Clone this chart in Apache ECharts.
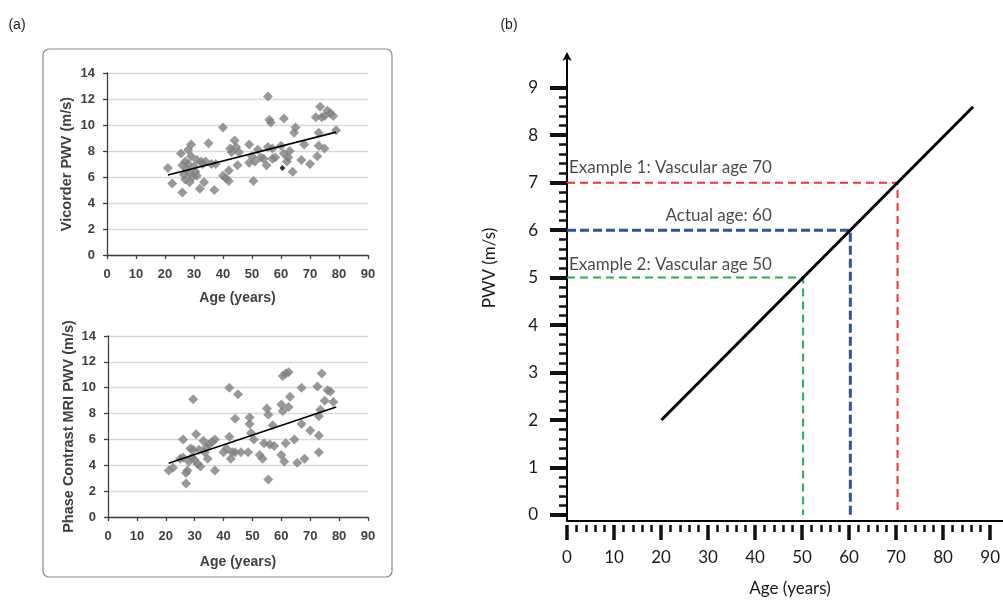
<!DOCTYPE html>
<html><head><meta charset="utf-8">
<script src="https://cdn.jsdelivr.net/npm/echarts@6/dist/echarts.min.js"></script>
<style>html,body{margin:0;padding:0;background:#fff}#c{width:1003px;height:601px}</style>
</head><body><div id="c"></div>
<script>
// ---- Panel (a), top: Vicorder PWV vs age ----
const vicorderPoints = [[21,6.7],[22.5,5.5],[25.5,7.8],[26,4.8],[26,6.9],[26.5,6.2],[27,7.2],[27,5.8],[27.5,6.6],[28,8.1],[28,7.0],[28.5,5.6],[28.5,6.3],[29,8.5],[29,7.6],[29.5,6.0],[30,6.8],[30.5,6.4],[31,7.3],[31,6.1],[32,5.1],[32.5,7.2],[33,7.0],[33.5,5.6],[34,7.2],[35,8.6],[36,7.0],[37,5.0],[37.5,7.0],[40,9.8],[40,6.1],[41,5.9],[42,6.5],[42,5.7],[42.5,8.2],[43,7.9],[44,8.8],[44.5,8.3],[45,6.9],[45.5,7.9],[49,8.5],[49,7.1],[50,7.6],[50.5,5.7],[51,7.2],[52,8.1],[53,7.5],[54,7.4],[55,6.9],[55.5,8.3],[55.5,12.2],[56,10.4],[56.5,10.2],[57,7.4],[57,8.2],[58,7.5],[60,8.4],[61,10.5],[61,7.8],[62,7.2],[62.5,7.5],[63,8.0],[64,6.4],[64.5,9.4],[65,9.8],[67,7.3],[68,8.5],[70,7.0],[72,10.6],[72.5,7.6],[73,9.4],[73,8.4],[73.5,11.4],[74,10.6],[75,10.7],[75,8.2],[76,11.1],[77,10.9],[78,10.7],[79,9.6]];
const vicorderHighlight = [[60.5,6.7]];
const vicorderTrend = [[21,6.15],[79,9.45]];

// ---- Panel (a), bottom: Phase contrast MRI PWV vs age ----
const mriPoints = [[21,3.6],[22.5,3.8],[25,4.5],[26,6.0],[26,4.6],[27,3.4],[27,2.6],[27.5,3.6],[28,4.3],[28.5,5.3],[29,4.6],[29.5,9.1],[29.5,5.2],[30,4.4],[30.5,6.4],[31,4.1],[31.5,5.2],[32,3.9],[33,5.9],[33.5,5.0],[34,5.4],[34.5,4.5],[35,5.6],[36,5.8],[37,6.0],[37,3.6],[40,5.0],[41,5.3],[42,10.0],[42,6.2],[42.5,4.5],[43,5.0],[44,7.6],[44,5.0],[45,9.5],[46,5.0],[48.5,5.0],[49,7.7],[49,7.2],[49.5,6.5],[50.5,6.0],[52.5,4.8],[53.5,4.5],[54,5.7],[55,8.4],[55.5,7.9],[55.5,2.9],[56,5.6],[57,7.1],[57.5,5.5],[60,8.7],[60.5,8.2],[60,4.8],[60.5,10.9],[61,4.3],[61.5,11.1],[61.5,5.7],[62.5,11.2],[62.5,8.5],[63,9.3],[64.5,6.0],[65.5,4.2],[67,10.0],[67,7.2],[68,4.5],[70,6.7],[72.5,10.1],[73,7.8],[73,6.3],[73,5.0],[74,11.1],[73.5,8.3],[75,9.0],[76,9.8],[77,9.7],[78,8.9]];
const mriTrend = [[21,4.15],[79,8.5]];

// ---- Panel (b): reference PWV-age line and vascular age examples ----
const refAges = [20, 86];
const refPwv = [2, 8.6];
const exampleAges = [70, 60, 50];
const examplePwv = [7, 6, 5];
const exampleTexts = ['Example 1: Vascular age 70', 'Actual age: 60', 'Example 2: Vascular age 50'];
const exampleColors = ['#f3302c', '#2f5597', '#25b34b'];

const chart = echarts.init(document.getElementById('c'), null, {renderer: 'canvas'});

const aFont = 'Liberation Sans';
const aColor = '#404040';
const bFont = 'Lato';

function aXAxis(gi, gap) {
  return {
    gridIndex: gi, type: 'value', min: 0, max: 90, interval: 10,
    axisLine: {show: true, onZero: false, lineStyle: {color: aColor, width: 1.3}},
    axisTick: {show: true, length: 4, lineStyle: {color: aColor, width: 1.3}},
    axisLabel: {color: aColor, fontWeight: 'bold', fontSize: 13, fontFamily: aFont, margin: 13},
    splitLine: {show: false},
    name: 'Age (years)', nameLocation: 'middle', nameGap: gap,
    nameTextStyle: {color: aColor, fontWeight: 'bold', fontSize: 14, fontFamily: aFont}
  };
}
function aYAxis(gi, name, gap) {
  return {
    gridIndex: gi, type: 'value', min: 0, max: 14, interval: 2,
    axisLine: {show: true, onZero: false, lineStyle: {color: aColor, width: 1.3}},
    axisTick: {show: true, length: 4, lineStyle: {color: aColor, width: 1.3}},
    axisLabel: {color: aColor, fontWeight: 'bold', fontSize: 13, fontFamily: aFont, margin: 12},
    splitLine: {show: true, lineStyle: {color: '#d9d9d9', width: 1.3}},
    name: name, nameLocation: 'middle', nameGap: gap, nameRotate: 90,
    nameTextStyle: {color: aColor, fontWeight: 'bold', fontSize: 14.5, fontFamily: aFont}
  };
}

const option = {
  animation: false,
  backgroundColor: '#ffffff',
  grid: [
    {left: 107, top: 73, width: 261, height: 182},
    {left: 108, top: 336, width: 260, height: 181},
    {left: 567, top: 87.7, width: 425, height: 427.3},
    {left: 567, top: 55, right: 0, height: 465.7},
    {left: 567, top: 500, width: 425, height: 25}
  ],
  xAxis: [
    aXAxis(0, 36),
    aXAxis(1, 38),
    {
      gridIndex: 2, type: 'value', min: 0, max: 90, show: false
    },
    {
      gridIndex: 3, type: 'value', min: 0, max: 1,
      axisLine: {show: true, onZero: false, lineStyle: {color: '#000', width: 2}},
      axisTick: {show: false}, axisLabel: {show: false}, splitLine: {show: false}
    },
    {
      gridIndex: 4, type: 'value', min: 0, max: 90, interval: 10,
      axisLine: {show: false},
      axisTick: {show: true, length: 15, lineStyle: {color: '#111', width: 3.5}},
      minorTick: {show: true, splitNumber: 5, length: 7, lineStyle: {color: '#111', width: 2.5}},
      axisLabel: {color: '#1a1a1a', fontSize: 17, fontFamily: bFont, margin: 24},
      splitLine: {show: false}
    }
  ],
  yAxis: [
    aYAxis(0, 'Vicorder PWV (m/s)', 33),
    aYAxis(1, 'Phase Contrast MRI PWV (m/s)', 32),
    {
      gridIndex: 2, type: 'value', min: 0, max: 9, interval: 1, offset: 6,
      axisLine: {show: false},
      axisTick: {show: true, length: 17, lineStyle: {color: '#111', width: 4}},
      minorTick: {show: true, splitNumber: 5, length: 8, lineStyle: {color: '#111', width: 2.5}},
      axisLabel: {color: '#1a1a1a', fontSize: 17, fontFamily: bFont, margin: 23},
      splitLine: {show: false}
    },
    {
      gridIndex: 3, type: 'value', min: 0, max: 1,
      axisLine: {show: true, onZero: false, symbol: ['none', 'arrow'], symbolSize: [7, 9], symbolOffset: [0, 3],
        lineStyle: {color: '#000', width: 2}},
      axisTick: {show: false}, axisLabel: {show: false}, splitLine: {show: false}
    },
    {
      gridIndex: 4, type: 'value', min: 0, max: 1, show: false
    }
  ],
  graphic: [
    {type: 'rect', shape: {x: 43, y: 49, width: 349, height: 528, r: 6},
      style: {fill: 'none', stroke: '#8a8a8a', lineWidth: 1.2}, z: 0},
    {type: 'text', x: 17, y: 25, style: {text: '(a)', font: '14px "Liberation Sans"', fill: '#222', align: 'center', verticalAlign: 'middle'}},
    {type: 'text', x: 509, y: 25, style: {text: '(b)', font: '14px "Liberation Sans"', fill: '#222', align: 'center', verticalAlign: 'middle'}},
    {type: 'text', x: 490, y: 268, rotation: Math.PI / 2,
      style: {text: 'PWV (m/s)', font: '17px Lato', fill: '#1a1a1a', align: 'center', verticalAlign: 'middle'}},
    {type: 'text', x: 790, y: 589,
      style: {text: 'Age (years)', font: '17px Lato', fill: '#1a1a1a', align: 'center', verticalAlign: 'middle'}}
  ],
  series: [
    {type: 'scatter', xAxisIndex: 0, yAxisIndex: 0, data: vicorderPoints,
      symbol: 'diamond', symbolSize: [10, 10], itemStyle: {color: '#7f7f7f'}, z: 2},
    {type: 'scatter', xAxisIndex: 0, yAxisIndex: 0, data: vicorderHighlight,
      symbol: 'diamond', symbolSize: [6, 6], itemStyle: {color: '#000'}, z: 4},
    {type: 'line', xAxisIndex: 0, yAxisIndex: 0, data: vicorderTrend, symbol: 'none',
      lineStyle: {color: '#000', width: 1.6}, z: 3},
    {type: 'scatter', xAxisIndex: 1, yAxisIndex: 1, data: mriPoints,
      symbol: 'diamond', symbolSize: [10, 10], itemStyle: {color: '#7f7f7f'}, z: 2},
    {type: 'line', xAxisIndex: 1, yAxisIndex: 1, data: mriTrend, symbol: 'none',
      lineStyle: {color: '#000', width: 1.6}, z: 3},
    {type: 'line', xAxisIndex: 2, yAxisIndex: 2, data: refAges.map((a, i) => [a, refPwv[i]]),
      symbol: 'none', lineStyle: {color: '#000', width: 3}, z: 5}
  ].concat(exampleAges.map((a, i) => ({
    type: 'line', xAxisIndex: 2, yAxisIndex: 2, symbol: 'none', z: 3,
    data: [[0, examplePwv[i]], [a, examplePwv[i]], [a, 0]],
    lineStyle: {color: exampleColors[i], width: i === 1 ? 3 : 2, type: i === 1 ? [9, 4] : [8, 5]}
  }))).concat([{
    type: 'scatter', xAxisIndex: 2, yAxisIndex: 2, symbolSize: 0, z: 6, silent: true,
    data: exampleAges.map((a, i) => ({
      value: i === 1 ? [a / 2, examplePwv[i]] : [0, examplePwv[i]],
      label: i === 1
        ? {show: true, position: 'top', distance: 6, offset: [10, 0], formatter: exampleTexts[i],
           fontFamily: bFont, fontSize: 17, color: '#1a1a1a'}
        : {show: true, position: 'right', distance: 2, offset: [0, i === 0 ? -15 : -13], formatter: exampleTexts[i],
           fontFamily: bFont, fontSize: 17, color: '#1a1a1a'}
    }))
  }])
};
chart.setOption(option);
</script>
</body></html>
